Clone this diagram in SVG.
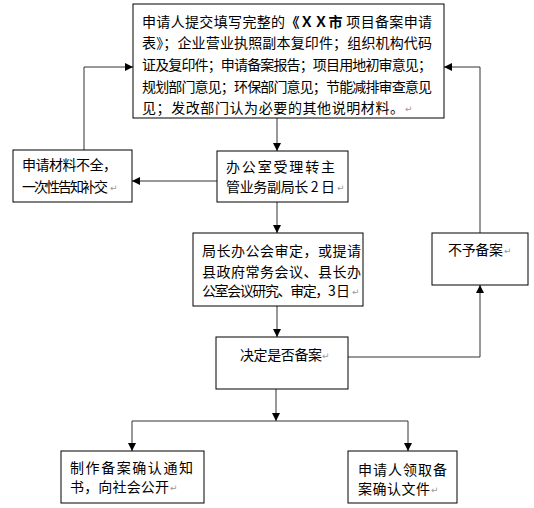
<svg xmlns="http://www.w3.org/2000/svg" width="534" height="508" viewBox="0 0 534 508">
<style>
.box{fill:#fff;stroke:#000;stroke-width:1}
.t{font-family:"Noto Sans CJK SC","Noto Sans CJK JP",sans-serif;font-size:14px;fill:#000}
.pm{font-family:"DejaVu Sans",sans-serif;font-size:9px;fill:#999}
.c{fill:none;stroke:#333;stroke-width:1}
</style>
<defs>
<marker id="ah" markerUnits="userSpaceOnUse" markerWidth="8" markerHeight="8" refX="8" refY="4" orient="auto">
<path d="M0,0 L8,4 L0,8 z" fill="#000"/>
</marker>
</defs>
<rect width="534" height="508" fill="#fff"/>
<g id="connectors">
<path class="c" d="M277,118 V151" marker-end="url(#ah)"/>
<path class="c" d="M217,181 H132" marker-end="url(#ah)"/>
<path class="c" d="M84,150 V67 H133" marker-end="url(#ah)"/>
<path class="c" d="M277,202 V233" marker-end="url(#ah)"/>
<path class="c" d="M277,306 V337" marker-end="url(#ah)"/>
<path class="c" d="M348,357 H480 V285" marker-end="url(#ah)"/>
<path class="c" d="M480,233 V67 H444" marker-end="url(#ah)"/>
<path class="c" d="M276,389 V421" marker-end="url(#ah)"/>
<path class="c" d="M132,421 H408"/>
<path class="c" d="M132,421 V451" marker-end="url(#ah)"/>
<path class="c" d="M408,421 V451" marker-end="url(#ah)"/>
</g>
<g id="n_apply">
<rect class="box" x="133" y="4" width="311" height="114"/>
<text class="t" x="142" y="27" textLength="290" lengthAdjust="spacing">申请人提交填写完整的<tspan font-weight="bold">《ＸＸ市</tspan> 项目备案申请</text>
<text class="t" x="142" y="48" textLength="290" lengthAdjust="spacing">表》；企业营业执照副本复印件；组织机构代码</text>
<text class="t" x="142" y="70" textLength="290" lengthAdjust="spacing">证及复印件；申请备案报告；项目用地初审意见；</text>
<text class="t" x="142" y="92" textLength="290" lengthAdjust="spacing">规划部门意见；环保部门意见；节能减排审查意见</text>
<text class="t" x="142" y="113" textLength="262" lengthAdjust="spacing">见；发改部门认为必要的其他说明材料。</text>
<text class="pm" x="405" y="112">↵</text>
</g>
<g id="n_incomplete">
<rect class="box" x="13" y="150" width="119" height="52"/>
<text class="t" x="22" y="170" textLength="95" lengthAdjust="spacing">申请材料不全，</text>
<text class="t" x="22" y="192" textLength="86" lengthAdjust="spacing">一次性告知补交</text>
<text class="pm" x="110" y="191">↵</text>
</g>
<g id="n_office">
<rect class="box" x="217" y="151" width="131" height="51"/>
<text class="t" x="226" y="172" textLength="109" lengthAdjust="spacing">办公室受理转主</text>
<text class="t" x="226" y="192" textLength="109" lengthAdjust="spacing">管业务副局长 2 日</text>
<text class="pm" x="337" y="191">↵</text>
</g>
<g id="n_meeting">
<rect class="box" x="193" y="233" width="170" height="73"/>
<text class="t" x="202" y="256" textLength="159" lengthAdjust="spacing">局长办公会审定，或提请</text>
<text class="t" x="202" y="277" textLength="159" lengthAdjust="spacing">县政府常务会议、县长办</text>
<text class="t" x="202" y="296" textLength="148" lengthAdjust="spacing">公室会议研究、审定，3 日</text>
<text class="pm" x="352" y="295">↵</text>
</g>
<g id="n_decide">
<rect class="box" x="216" y="337" width="132" height="52"/>
<text class="t" x="240" y="360" textLength="82" lengthAdjust="spacing">决定是否备案</text>
<text class="pm" x="322" y="359">↵</text>
</g>
<g id="n_reject">
<rect class="box" x="432" y="233" width="96" height="52"/>
<text class="t" x="448" y="255" textLength="55" lengthAdjust="spacing">不予备案</text>
<text class="pm" x="504" y="254">↵</text>
</g>
<g id="n_notice">
<rect class="box" x="61" y="451" width="143" height="52"/>
<text class="t" x="70" y="473" textLength="123" lengthAdjust="spacing">制作备案确认通知</text>
<text class="t" x="70" y="492" textLength="99" lengthAdjust="spacing">书，向社会公开</text>
<text class="pm" x="170" y="491">↵</text>
</g>
<g id="n_receive">
<rect class="box" x="348" y="451" width="109" height="52"/>
<text class="t" x="358" y="475" textLength="89" lengthAdjust="spacing">申请人领取备</text>
<text class="t" x="358" y="494" textLength="72" lengthAdjust="spacing">案确认文件</text>
<text class="pm" x="431" y="493">↵</text>
</g>
</svg>
